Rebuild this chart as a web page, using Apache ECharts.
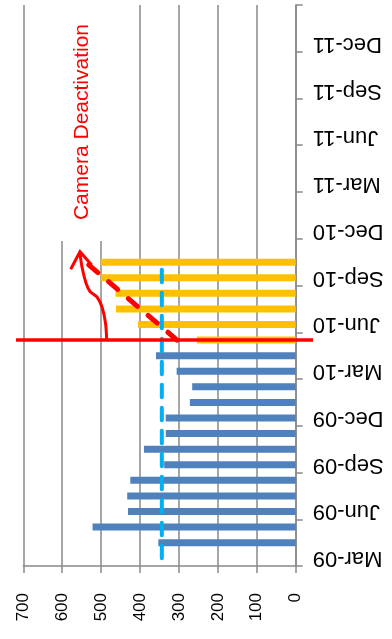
<!DOCTYPE html>
<html><head><meta charset="utf-8">
<script src="https://cdn.jsdelivr.net/npm/echarts@6/dist/echarts.min.js"></script>
<style>html,body{margin:0;padding:0;background:#fff}#c{width:392px;height:639px}</style>
</head><body><div id="c"></div>
<script>
// Monthly categories (label every 3rd month)
const months = ['Mar-09','Apr-09','May-09','Jun-09','Jul-09','Aug-09','Sep-09','Oct-09','Nov-09','Dec-09','Jan-10','Feb-10',
  'Mar-10','Apr-10','May-10','Jun-10','Jul-10','Aug-10','Sep-10','Oct-10','Nov-10','Dec-10','Jan-11','Feb-11',
  'Mar-11','Apr-11','May-11','Jun-11','Jul-11','Aug-11','Sep-11','Oct-11','Nov-11','Dec-11','Jan-12','Feb-12'];
// Before deactivation (blue)
const beforeValues = [null, 353, 522, 431, 433, 425, 338, 390, 334, 334, 272, 266, 306, 359];
// After deactivation (yellow)
const afterValues = [null, null, null, null, null, null, null, null, null, null, null, null, null, null, 254, 405, 462, 463, 501, 501];
// Average level (cyan dashed)
const averageValues = [344, 344, 344, 344, 344, 344, 344, 344, 344, 344, 344, 344, 344, 344, 344, 344, 344, 344, 344, 344];
// Trend after deactivation (red dashed)
const trendValues = [null, null, null, null, null, null, null, null, null, null, null, null, null, null, 305, null, null, null, null, 540];
const valueTicks = [0, 100, 200, 300, 400, 500, 600, 700];
const deactivationMonth = 'May-10';
const annotationText = 'Camera Deactivation';

const FONT = '"Liberation Sans", Arial, sans-serif';
const GRAY = '#898989';
const chart = echarts.init(document.getElementById('c'), null, {renderer: 'canvas'});
const option = {
  animation: false,
  backgroundColor: '#fff',
  grid: {left: 23.3, right: 96.3, top: 5, bottom: 73},
  xAxis: {
    type: 'value', inverse: true, position: 'bottom',
    min: valueTicks[0], max: valueTicks[valueTicks.length - 1], interval: 100,
    axisLine: {show: true, lineStyle: {color: GRAY, width: 1.5}},
    axisTick: {show: true, length: 7, lineStyle: {color: GRAY, width: 1.5}},
    splitLine: {show: true, lineStyle: {color: GRAY, width: 1.5}},
    axisLabel: {rotate: 90, fontSize: 17, color: '#000', margin: 27, fontFamily: FONT}
  },
  yAxis: {
    type: 'category', data: months, position: 'right', boundaryGap: true,
    axisLine: {show: true, lineStyle: {color: GRAY, width: 1.5}},
    axisTick: {show: true, interval: 2, length: 7, lineStyle: {color: GRAY, width: 1.5}},
    axisLabel: {interval: 2, rotate: 180, fontSize: 22, color: '#000', margin: 17, fontFamily: FONT},
    splitLine: {show: false}
  },
  series: [
    {type: 'bar', data: beforeValues, barWidth: 7, barGap: '-100%', itemStyle: {color: '#4F81BD'}, z: 2},
    {type: 'bar', data: afterValues, barWidth: 7, barGap: '-100%', itemStyle: {color: '#FFC000'}, z: 2},
    {type: 'line', data: averageValues, symbol: 'none', z: 4,
      lineStyle: {color: '#00B0F0', width: 4, type: [12.5, 10.5], cap: 'round'}},
    {type: 'line', data: trendValues, symbol: 'none', connectNulls: true, z: 5,
      lineStyle: {color: '#FF0000', width: 5, type: [12, 14], cap: 'round'}}
  ]
};
chart.setOption(option);

const yLine = chart.convertToPixel({yAxisIndex: 0}, deactivationMonth);
chart.setOption({
  graphic: [
    {type: 'rect', z: 1, shape: {x: 35, y: 0, width: 93, height: 241}, style: {fill: '#fff'}},
    {type: 'text', z: 6, x: 82, y: 122, rotation: Math.PI / 2,
      style: {text: annotationText, fill: '#FF0000', font: '21px ' + FONT, align: 'center', verticalAlign: 'middle'}},
    {type: 'line', z: 10, shape: {x1: 16, y1: yLine, x2: 313, y2: yLine}, style: {stroke: '#FF0000', lineWidth: 3.5}},
    {type: 'polyline', z: 10, shape: {points: [[106.7, yLine], [105.5, 323], [102, 307], [97, 297], [90, 291.5], [86, 283], [82, 267], [80, 253]], smooth: 0.3},
      style: {stroke: '#FF0000', lineWidth: 3, fill: null}},
    {type: 'polyline', z: 10, shape: {points: [[70.7, 269.3], [80, 251.7], [91.7, 265]]},
      style: {stroke: '#FF0000', lineWidth: 3, fill: null, lineJoin: 'miter'}}
  ]
});
</script>
</body></html>
